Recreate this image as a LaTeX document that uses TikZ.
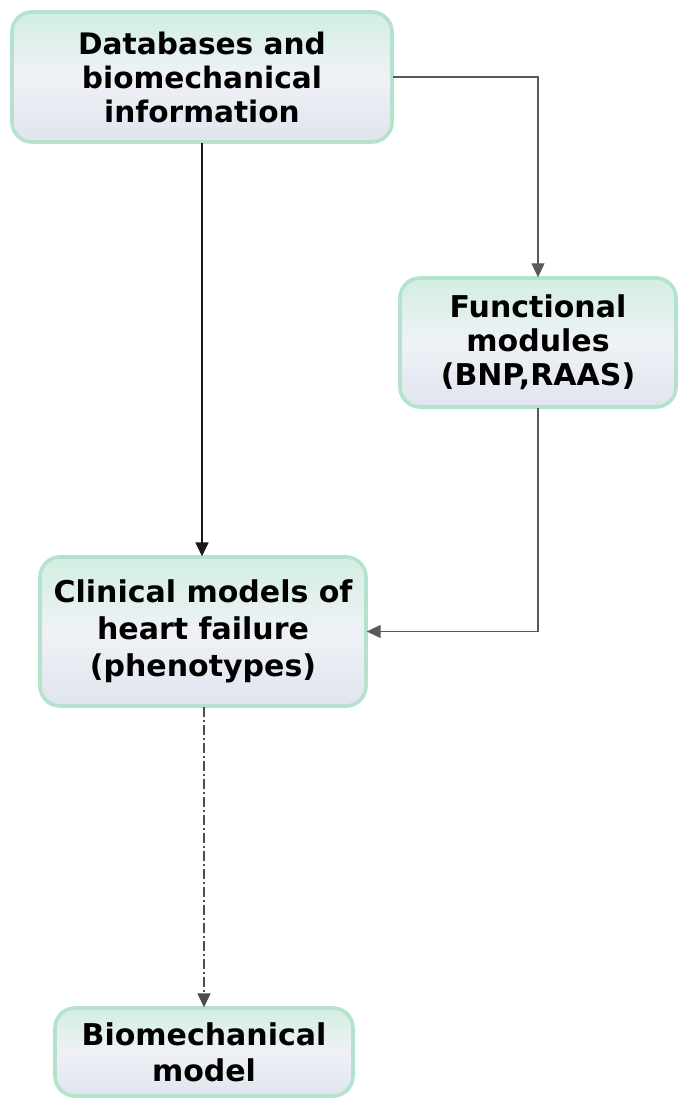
\documentclass[tikz,border=0pt]{standalone}
\usepackage{fontspec}
\setmainfont{DejaVu Sans}
\usetikzlibrary{arrows.meta}
\definecolor{boxtop}{RGB}{210,238,225}
\definecolor{boxbot}{RGB}{224,228,238}
\definecolor{boxline}{RGB}{140,170,155}
\definecolor{boxglow}{RGB}{180,226,205}
\tikzset{
    module/.style={
    rounded corners=10pt,
    draw=boxline,
    line width=0.7pt,
    top color=boxtop,
    bottom color=boxbot,
    middle color=white!50!boxbot,
    align=center,
    inner sep=2pt,
    font=\fontsize{14.8}{17}\selectfont\bfseries,
    postaction={draw=boxglow, line width=1.8pt, rounded corners=9pt},
    },
    link/.style={-{Triangle[length=7pt,width=6.5pt]}, line width=0.8pt, draw=black!90},
    thinlink/.style={-{Triangle[length=7pt,width=6.5pt]}, line width=0.55pt, draw=black!65},
}

\begin{document}
\begin{tikzpicture}[x=0.5pt,y=-0.5pt]
\useasboundingbox (0,0) rectangle (688,1106);
\node[module, minimum width=190pt, minimum height=65pt] (db) at (202,77) {Databases and\\biomechanical\\information}; % data
\node[module, minimum width=138pt, minimum height=64.5pt, font=\fontsize{15}{17}\selectfont\bfseries] (fm) at (538,342.5) {Functional\\modules\\(BNP,RAAS)}; % modules
\node[module, minimum width=163pt, minimum height=74.5pt, font=\fontsize{15}{18.5}\selectfont\bfseries] (cm) at (203,631.5) {Clinical models of\\heart failure\\(phenotypes)}; % clinical
\node[module, minimum width=149pt, minimum height=44pt, font=\fontsize{15}{18}\selectfont\bfseries] (bm) at (204,1052) {Biomechanical\\model}; % result
\draw[link] (db.south) -- (db.south |- cm.north);
\draw[thinlink] (db.east) -| (fm.north);
\draw[thinlink] (fm.south) |- (cm.east);
\draw[link, draw=black!70, line width=0.7pt, dash pattern=on 5pt off 1.5pt on 1pt off 1.5pt] (bm.north |- cm.south) -- (bm.north);
\end{tikzpicture}
\end{document}
